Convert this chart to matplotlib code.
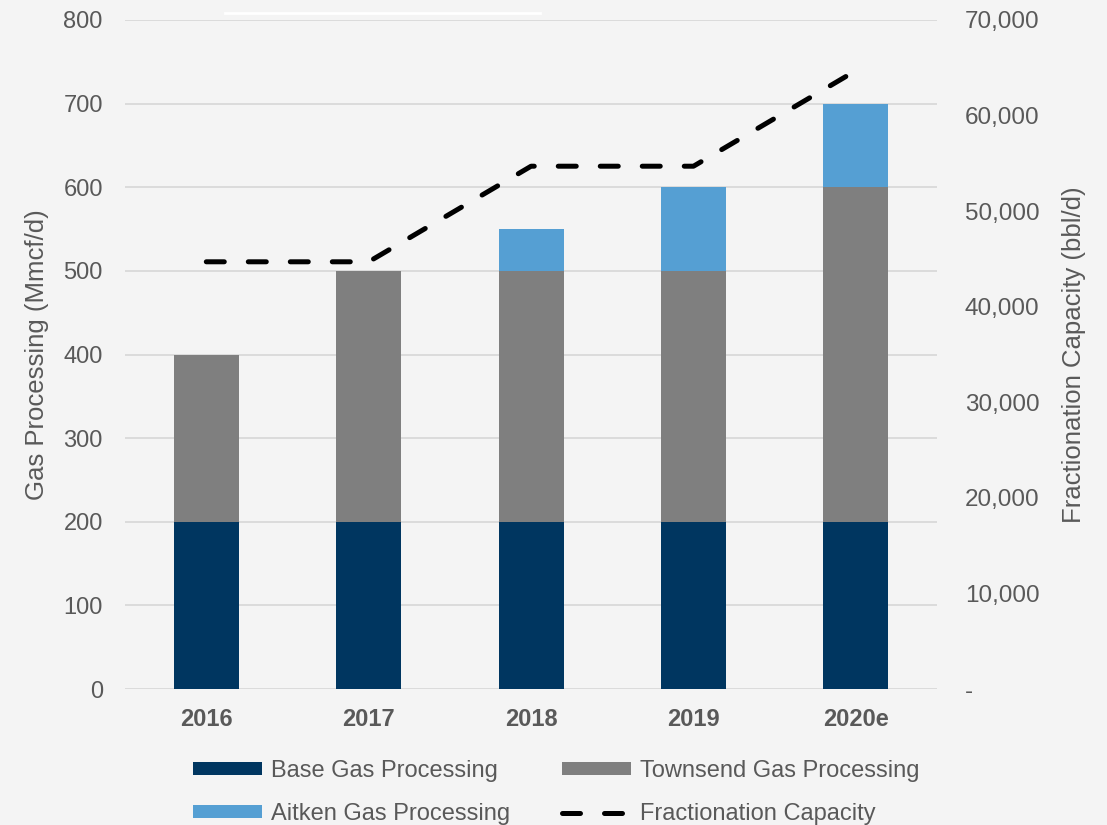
import numpy as np
import matplotlib.pyplot as plt
from matplotlib.lines import Line2D
from matplotlib.ticker import FuncFormatter

years = ['2016', '2017', '2018', '2019', '2020e']
base_gas = [200, 200, 200, 200, 200]
townsend_gas = [200, 300, 300, 300, 400]
aitken_gas = [0, 0, 50, 100, 100]
fractionation = [44700, 44700, 54700, 54700, 64700]

bg = '#f4f4f4'
txt = '#595959'
plt.rcParams['font.family'] = ['Liberation Sans', 'DejaVu Sans']

fig = plt.figure(figsize=(11.07, 8.25), dpi=100, facecolor=bg)
ax = fig.add_axes([0.113, 0.1648, 0.7335, 0.811])
ax.set_facecolor(bg)

x = np.arange(len(years))
w = 0.4
b1 = ax.bar(x, base_gas, w, color='#003660', zorder=2, label='Base Gas Processing')
b2 = ax.bar(x, townsend_gas, w, bottom=base_gas, color='#7f7f7f', zorder=2,
            label='Townsend Gas Processing')
bottom2 = np.array(base_gas) + np.array(townsend_gas)
b3 = ax.bar(x, aitken_gas, w, bottom=bottom2, color='#559fd3', zorder=2,
            label='Aitken Gas Processing')

ax.set_xlim(-0.5, 4.5)
ax.set_ylim(0, 800)
ax.set_yticks(range(0, 801, 100))
ax.grid(axis='y', color='#d9d9d9', linewidth=1.3, zorder=0)
for s in ax.spines.values():
    s.set_visible(False)
ax.tick_params(length=0, labelsize=17, labelcolor=txt)
ax.tick_params(axis='y', pad=16)
ax.tick_params(axis='x', pad=14)
ax.set_xticks(x)
ax.set_xticklabels(years, fontweight='bold', color=txt)
ax.set_ylabel('Gas Processing (Mmcf/d)', fontsize=18.5, color=txt, labelpad=10)

ax2 = ax.twinx()
ax2.set_ylim(0, 70000)
ax2.set_yticks(range(0, 70001, 10000))
ax2.yaxis.set_major_formatter(FuncFormatter(lambda v, p: '-' if v == 0 else f'{int(v):,}'))
for s in ax2.spines.values():
    s.set_visible(False)
ax2.tick_params(length=0, labelsize=17.5, labelcolor=txt, pad=20)
ax2.set_ylabel('Fractionation Capacity (bbl/d)', fontsize=18.5, color=txt, labelpad=16)
ln, = ax2.plot(x, fractionation, color='black', linewidth=3.6, dashes=(3.6, 4.8),
               dash_capstyle='round', zorder=3, label='Fractionation Capacity')

# legend fills column by column, so order gives rows: Base/Townsend, Aitken/Fractionation
handles = [b1, b3, b2, ln]
labels = [h.get_label() for h in handles]
fig.legend(handles, labels, ncol=2, loc='upper left', bbox_to_anchor=(0.155, 0.1047),
           frameon=False, fontsize=17, labelcolor=txt, handlelength=2.95,
           handleheight=0.5, handletextpad=0.35, columnspacing=2.2, labelspacing=0.9)

# thin white stroke above the plot
fig.add_artist(Line2D([0.203, 0.488], [0.984, 0.984], color='white', linewidth=2,
                      transform=fig.transFigure))

fig.savefig('out.png', dpi=100, facecolor=bg)
